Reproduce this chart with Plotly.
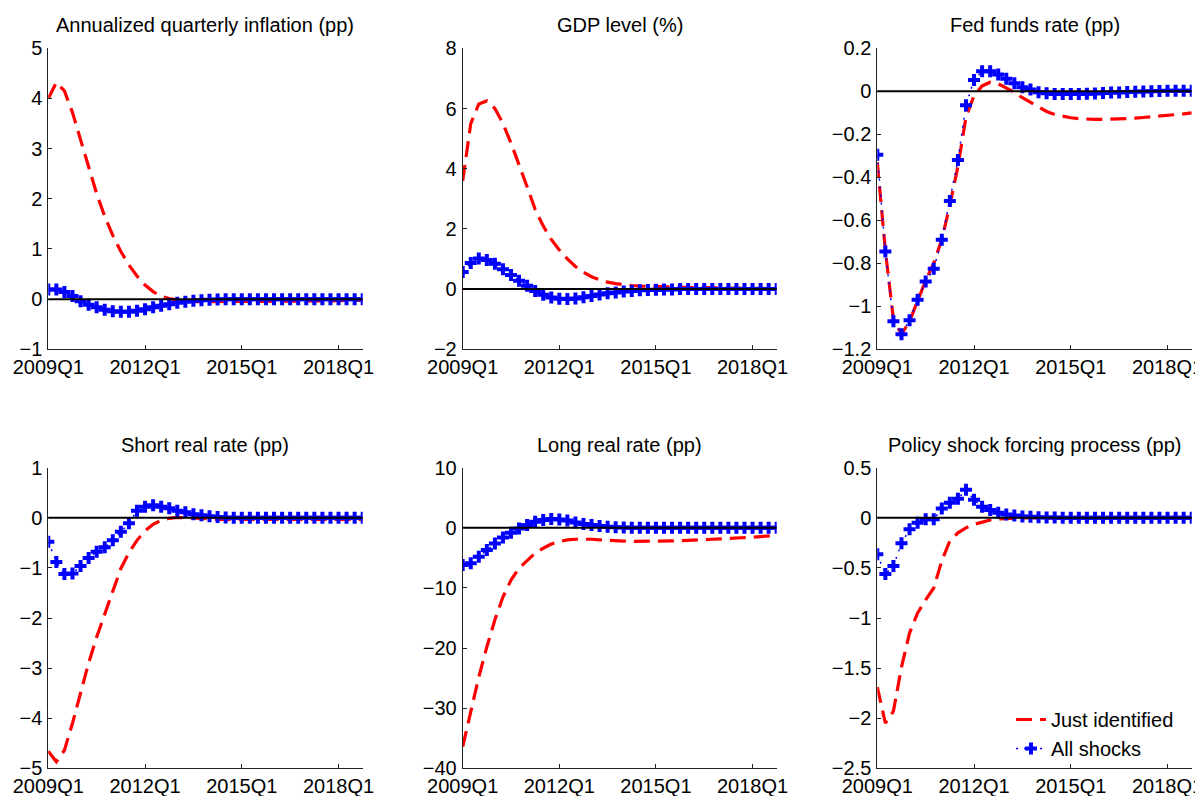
import plotly.graph_objects as go

# ---------------- data ----------------
YEARS = list(range(2009, 2019))
QUARTERS = [f"{y}Q{q}" for y in YEARS for q in range(1, 5)]  # 40 quarters
X_TICKS = ["2009Q1", "2012Q1", "2015Q1", "2018Q1"]

TITLES = [
    "Annualized quarterly inflation (pp)",
    "GDP level (%)",
    "Fed funds rate (pp)",
    "Short real rate (pp)",
    "Long real rate (pp)",
    "Policy shock forcing process (pp)",
]

infl_just = [4.0, 4.32, 4.15, 3.72, 3.18, 2.62, 2.1, 1.65, 1.27, 0.95,
             0.68, 0.46, 0.28, 0.15, 0.06, 0.01, -0.02, -0.04, -0.05, -0.05,
             -0.05, -0.05, -0.05, -0.05, -0.05, -0.05, -0.05, -0.05, -0.05, -0.05,
             -0.05, -0.05, -0.045, -0.04, -0.04, -0.035, -0.03, -0.03, -0.025, -0.02]
infl_all = [0.19, 0.19, 0.14, 0.06, -0.04, -0.11, -0.16, -0.21, -0.24, -0.25,
            -0.25, -0.23, -0.2, -0.16, -0.13, -0.1, -0.07, -0.05, -0.03, -0.02,
            -0.01, -0.005, 0.0, 0.0, 0.0, 0.0, 0.0, 0.0, 0.0, 0.0,
            0.0, 0.0, 0.0, 0.0, 0.0, 0.0, 0.0, 0.0, 0.0, 0.0]

gdp_just = [3.6, 5.5, 6.15, 6.25, 6.0, 5.5, 4.85, 4.15, 3.4, 2.65,
            2.1, 1.65, 1.3, 1.0, 0.75, 0.56, 0.41, 0.31, 0.23, 0.18,
            0.14, 0.12, 0.1, 0.09, 0.08, 0.07, 0.07, 0.06, 0.06, 0.05,
            0.05, 0.04, 0.04, 0.04, 0.03, 0.03, 0.03, 0.02, 0.02, 0.02]
gdp_all = [0.57, 0.87, 1.02, 0.97, 0.84, 0.66, 0.47, 0.28, 0.11, -0.06,
           -0.19, -0.28, -0.32, -0.33, -0.31, -0.27, -0.23, -0.18, -0.14, -0.11,
           -0.08, -0.06, -0.04, -0.03, -0.02, -0.01, -0.01, 0.0, 0.0, 0.0,
           0.0, 0.0, 0.0, 0.0, 0.0, 0.0, 0.0, 0.0, 0.0, 0.0]

ffr_just = [-0.33, -0.74, -1.06, -1.13, -1.07, -0.97, -0.88, -0.8, -0.69, -0.53,
            -0.35, -0.12, -0.02, 0.025, 0.042, 0.035, 0.016, -0.004, -0.03, -0.05,
            -0.074, -0.094, -0.108, -0.117, -0.123, -0.127, -0.13, -0.131, -0.131, -0.13,
            -0.129, -0.127, -0.125, -0.122, -0.119, -0.116, -0.113, -0.109, -0.105, -0.1]
ffr_all = [-0.295, -0.745, -1.07, -1.13, -1.065, -0.97, -0.885, -0.825, -0.69, -0.51,
           -0.32, -0.065, 0.053, 0.093, 0.093, 0.078, 0.058, 0.038, 0.019, 0.008,
           -0.004, -0.009, -0.012, -0.013, -0.013, -0.012, -0.011, -0.01, -0.008, -0.006,
           -0.005, -0.003, -0.002, -0.001, 0.0, 0.001, 0.002, 0.002, 0.003, 0.003]

srr_just = [-4.66, -4.87, -4.64, -4.1, -3.5, -2.9, -2.38, -1.91, -1.44, -1.01,
            -0.7, -0.45, -0.26, -0.13, -0.05, -0.01, 0.01, 0.0, -0.01, -0.02,
            -0.02, -0.03, -0.03, -0.03, -0.03, -0.04, -0.04, -0.04, -0.04, -0.04,
            -0.04, -0.04, -0.04, -0.04, -0.04, -0.04, -0.04, -0.03, -0.03, -0.03]
srr_all = [-0.48, -0.88, -1.12, -1.11, -0.96, -0.8, -0.68, -0.59, -0.45, -0.28,
           -0.11, 0.14, 0.22, 0.25, 0.22, 0.19, 0.14, 0.11, 0.07, 0.05,
           0.03, 0.015, 0.005, 0.0, 0.0, 0.0, 0.0, 0.0, 0.0, 0.0,
           0.0, 0.0, 0.0, 0.0, 0.0, 0.0, 0.0, 0.0, 0.0, 0.0]

lrr_just = [-36.4, -30.3, -24.8, -19.8, -15.3, -11.5, -8.7, -6.7, -5.4, -4.2,
            -3.4, -2.7, -2.3, -2.0, -1.9, -1.85, -1.9, -2.0, -2.1, -2.15,
            -2.2, -2.25, -2.25, -2.25, -2.25, -2.25, -2.2, -2.15, -2.1, -2.0,
            -1.95, -1.9, -1.85, -1.8, -1.7, -1.65, -1.55, -1.45, -1.35, -1.25]
lrr_all = [-6.2, -5.9, -4.8, -3.7, -2.6, -1.6, -0.8, -0.1, 0.47, 1.0,
           1.3, 1.46, 1.4, 1.2, 0.9, 0.63, 0.47, 0.3, 0.19, 0.1,
           0.05, 0.02, 0.0, 0.0, 0.0, 0.0, 0.0, 0.0, 0.0, 0.0,
           0.0, 0.0, 0.0, 0.0, 0.0, 0.0, 0.0, 0.0, 0.0, 0.0]

pol_just = [-1.69, -2.05, -1.93, -1.49, -1.15, -0.95, -0.82, -0.7, -0.43, -0.23,
            -0.15, -0.1, -0.065, -0.04, -0.022, -0.012, -0.006, -0.003, -0.001, 0.0,
            0.0, 0.0, 0.0, 0.0, 0.0, 0.0, 0.0, 0.0, 0.0, 0.0,
            0.0, 0.0, 0.0, 0.0, 0.0, 0.0, 0.0, 0.0, 0.0, 0.0]
pol_all = [-0.365, -0.56, -0.48, -0.255, -0.115, -0.05, -0.015, -0.015, 0.094, 0.15,
           0.19, 0.28, 0.18, 0.11, 0.077, 0.05, 0.034, 0.024, 0.014, 0.01,
           0.005, 0.003, 0.002, 0.001, 0.0, 0.0, 0.0, 0.0, 0.0, 0.0,
           0.0, 0.0, 0.0, 0.0, 0.0, 0.0, 0.0, 0.0, 0.0, 0.0]

JUST = [infl_just, gdp_just, ffr_just, srr_just, lrr_just, pol_just]
ALL = [infl_all, gdp_all, ffr_all, srr_all, lrr_all, pol_all]

Y_TICKS = [
    [-1, 0, 1, 2, 3, 4, 5],
    [-2, 0, 2, 4, 6, 8],
    [-1.2, -1, -0.8, -0.6, -0.4, -0.2, 0, 0.2],
    [-5, -4, -3, -2, -1, 0, 1],
    [-40, -30, -20, -10, 0, 10],
    [-2.5, -2, -1.5, -1, -0.5, 0, 0.5],
]
Y_RANGES = [[-1, 5], [-2, 8], [-1.2, 0.2], [-5, 1], [-40, 10], [-2.5, 0.5]]

# ---------------- layout geometry ----------------
# The page body has an 8px margin, so the figure is drawn 8px smaller
# and all window-pixel positions are shifted by that offset.
OFF = 8
W, H = 1203 - OFF, 796 - OFF
COL_PX = [(48.3, 362.7), (462.7, 776.7), (877.3, 1191.7)]
ROW_PX = [(48.3, 349.3), (467.7, 768.3)]
TITLE_Y_PX = [25, 445]
LEGEND_X_PX, LEGEND_Y_PX = 1011, 700

FONT = "Liberation Sans, Arial, sans-serif"
RED = "#FF0000"
BLUE = "#0000FF"


def px_x(v):
    return (v - OFF) / W


def px_y(v):
    return 1 - (v - OFF) / H


fig = go.Figure()
layout = dict(
    template="none",
    width=W, height=H,
    margin=dict(l=0, r=0, t=0, b=0, autoexpand=False),
    paper_bgcolor="white", plot_bgcolor="white",
    font=dict(family=FONT, size=20, color="black"),
    showlegend=True,
    legend=dict(
        x=px_x(LEGEND_X_PX), y=px_y(LEGEND_Y_PX), xanchor="left", yanchor="top",
        bgcolor="rgba(0,0,0,0)", borderwidth=0,
        font=dict(family=FONT, size=20, color="black"),
        tracegroupgap=0,
    ),
)
annotations = []
shapes = []

for i in range(6):
    r, c = divmod(i, 3)
    n = i + 1
    xa = "x" if n == 1 else f"x{n}"
    ya = "y" if n == 1 else f"y{n}"
    x0, x1 = COL_PX[c]
    y0, y1 = ROW_PX[r]
    layout[f"xaxis{n}"] = dict(
        domain=[px_x(x0), px_x(x1)], anchor=ya, automargin=False,
        type="category", categoryorder="array", categoryarray=QUARTERS,
        range=[0, len(QUARTERS) - 1],
        tickmode="array", tickvals=X_TICKS, ticktext=X_TICKS,
        ticks="inside", ticklen=4, tickwidth=1, tickcolor="#222",
        showline=True, linecolor="#222", linewidth=1,
        showgrid=False, zeroline=False,
        tickfont=dict(family=FONT, size=20, color="black"),
        ticklabelstandoff=0,
    )
    layout[f"yaxis{n}"] = dict(
        domain=[px_y(y1), px_y(y0)], anchor=xa, automargin=False,
        range=Y_RANGES[i],
        tickmode="array", tickvals=Y_TICKS[i],
        ticks="inside", ticklen=4, tickwidth=1, tickcolor="#222",
        showline=True, linecolor="#222", linewidth=1,
        showgrid=False, zeroline=False,
        tickfont=dict(family=FONT, size=20, color="black"),
        ticklabelstandoff=1,
    )
    fig.add_trace(go.Scatter(
        x=QUARTERS, y=JUST[i], xaxis=xa, yaxis=ya,
        mode="lines", name="Just identified",
        line=dict(color=RED, width=3.2, dash="16px,8px"),
        showlegend=(i == 0), legendgroup="just",
    ))
    fig.add_trace(go.Scatter(
        x=QUARTERS, y=ALL[i], xaxis=xa, yaxis=ya,
        mode="lines+markers", name="All shocks",
        line=dict(color=BLUE, width=1.5, dash="2px,6px"),
        marker=dict(symbol="cross", size=10, color=BLUE, line=dict(width=0)),
        showlegend=(i == 0), legendgroup="all",
    ))
    shapes.append(dict(
        type="line", xref=f"{xa} domain", yref=ya,
        x0=0, x1=1, y0=0, y1=0,
        line=dict(color="black", width=2), layer="above",
    ))
    annotations.append(dict(
        text=TITLES[i], xref="paper", yref="paper",
        x=px_x((x0 + x1) / 2), y=px_y(TITLE_Y_PX[r]),
        xanchor="center", yanchor="middle", showarrow=False,
        font=dict(family=FONT, size=20, color="black"),
    ))

layout["annotations"] = annotations
layout["shapes"] = shapes
fig.update_layout(**layout)
fig.write_html("out.html")
